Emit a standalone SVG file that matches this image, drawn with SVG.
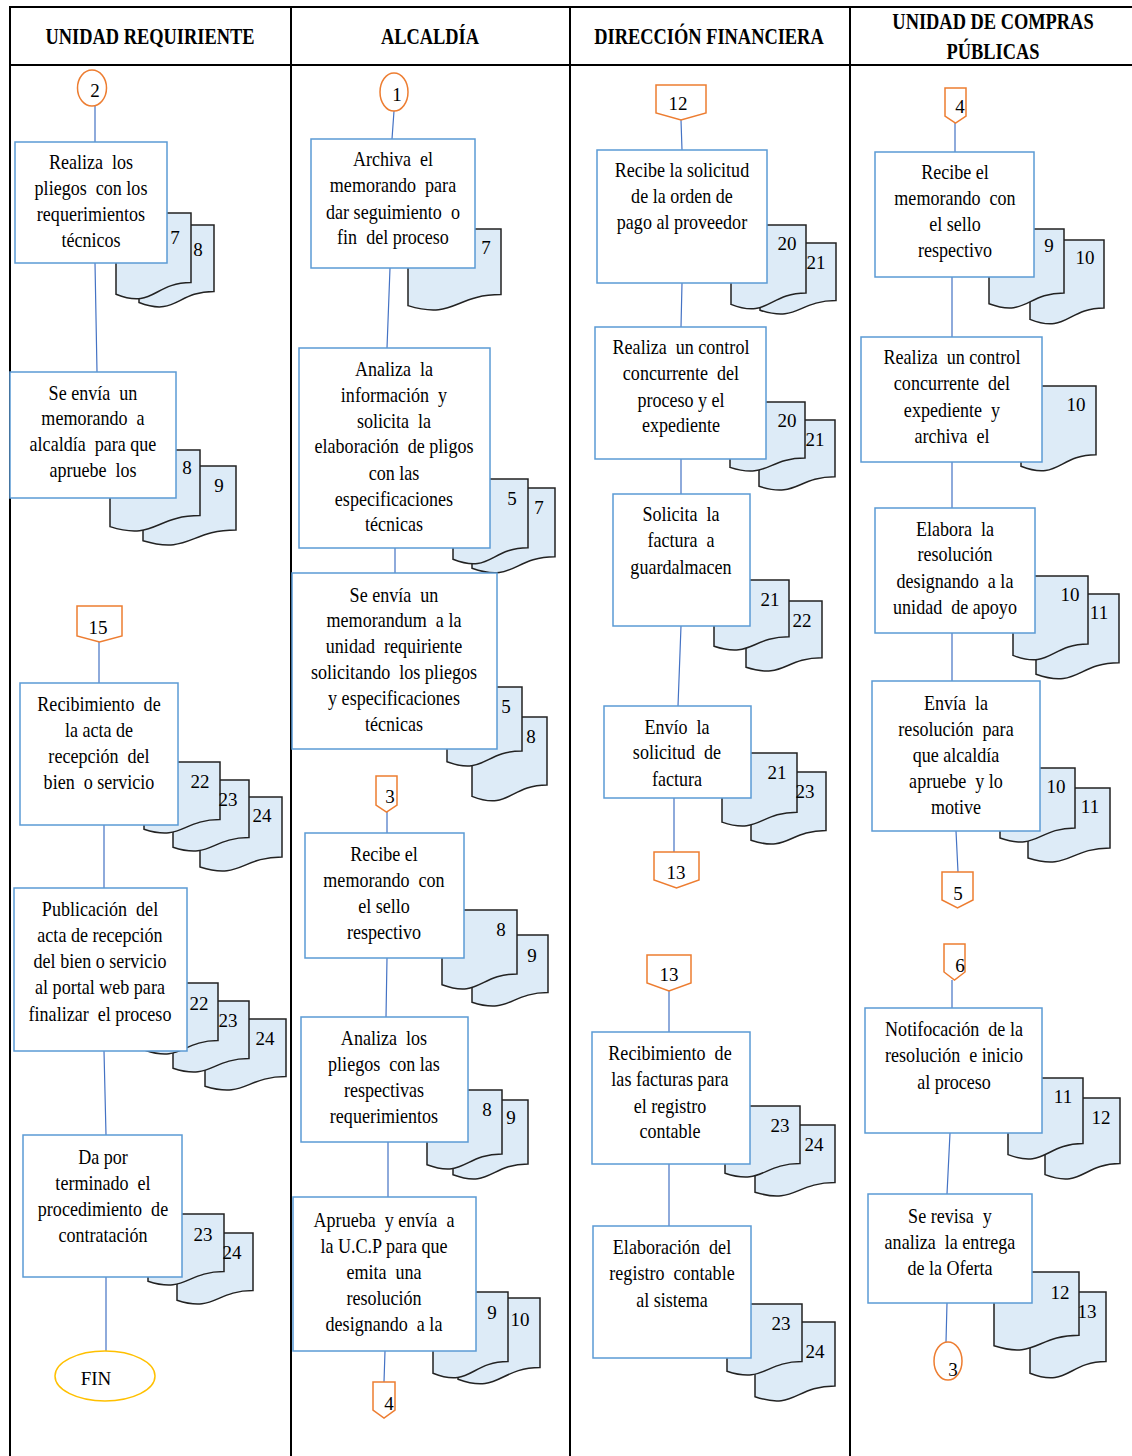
<svg xmlns="http://www.w3.org/2000/svg" width="1132" height="1456" viewBox="0 0 1132 1456" xml:space="preserve">
<style>
.t{font-family:"Liberation Serif","Times New Roman",serif;font-size:21px;fill:#000;text-anchor:middle;white-space:pre}
.n{font-family:"Liberation Serif","Times New Roman",serif;font-size:19px;fill:#000;text-anchor:middle}
.h{font-family:"Liberation Serif","Times New Roman",serif;font-size:23px;font-weight:bold;fill:#000;text-anchor:middle}
.grid{stroke:#000;stroke-width:2;fill:none}
.box{fill:#fff;stroke:#5B9BD5;stroke-width:1.5}
.doc{fill:#DDEBF7;stroke:#222;stroke-width:1.5}
.conn{stroke:#4472C4;stroke-width:1.2;fill:none}
.off{fill:#fff;stroke:#ED7D31;stroke-width:1.5}
.fin{fill:#fff;stroke:#FFC000;stroke-width:1.5}
</style>
<rect x="0" y="0" width="1132" height="1456" fill="#fff"/>
<g id="table">
<path class="grid" d="M10 1456V7H1132M10 65H1132M291 7V1456M570 7V1456M850 7V1456"/>
<text class="h" x="150" y="44" transform="matrix(0.8 0 0 1 30 0)">UNIDAD REQUIRIENTE</text>
<text class="h" x="430" y="44" transform="matrix(0.8 0 0 1 86 0)">ALCALDÍA</text>
<text class="h" x="709" y="44" transform="matrix(0.8 0 0 1 141.8 0)">DIRECCIÓN FINANCIERA</text>
<text class="h" x="993" y="29" transform="matrix(0.8 0 0 1 198.6 0)">UNIDAD DE COMPRAS</text>
<text class="h" x="993" y="59" transform="matrix(0.8 0 0 1 198.6 0)">PÚBLICAS</text>
</g>
<g id="connectors">
<path class="conn" d="M95 106L95 142M95 263L97 372M99 642L99 683M104 825L104 888M104 1051L106 1135M106 1277L106 1351"/>
<path class="conn" d="M394 111L392 139M390 268L387 348M395 548L395 573M387 812L387 833M387 958L386 1017M388 1142L388 1197M385 1351L384 1382"/>
<path class="conn" d="M681 120L682 150M682 283L681 327M681 459L681 494M681 626L678 706M674 798L674 852M669 991L669 1032M669 1164L669 1226"/>
<path class="conn" d="M955 123L955 152M952 277L952 337M952 462L952 508M952 633L952 681M956 831L958 872M952 980L952 1008M950 1133L947 1194M947 1303L946 1342"/>
</g>
<g id="c2"><ellipse class="off" cx="92" cy="88" rx="14.5" ry="18"/><text class="n" x="95" y="97">2</text></g>
<g id="n1"><path class="doc" d="M139 225H214V291.4C176.5 291.4 176.5 316.9 139 302.5Z"/><path class="doc" d="M116 213H191V282.6C153.5 282.6 153.5 309.3 116 294.3Z"/><text class="n" x="175" y="244">7</text><text class="n" x="198" y="256">8</text>
<rect class="box" x="15" y="142" width="152" height="121"/><g transform="matrix(0.86 0 0 1 12.74 0)"><text class="t" x="91" y="169">Realiza  los</text><text class="t" x="91" y="195">pliegos  con los</text><text class="t" x="91" y="221">requerimientos</text><text class="t" x="91" y="247">técnicos</text></g></g>
<g id="n2"><path class="doc" d="M143 466H236V530C189.5 530 189.5 554.6 143 540.7Z"/><path class="doc" d="M110 450H200V515.6C155 515.6 155 540.8 110 526.6Z"/><text class="n" x="187" y="474">8</text><text class="n" x="219" y="492">9</text>
<rect class="box" x="10" y="372" width="166" height="126"/><g transform="matrix(0.86 0 0 1 13.02 0)"><text class="t" x="93" y="400">Se envía  un</text><text class="t" x="93" y="425">memorando  a</text><text class="t" x="93" y="451">alcaldía  para que</text><text class="t" x="93" y="477">apruebe  los</text></g></g>
<g id="o15"><path class="off" d="M77 606H122V636L99.5 642L77 636Z"/><text class="n" x="98" y="634">15</text></g>
<g id="n3"><path class="doc" d="M200 797H282V857C241 857 241 880 200 867Z"/><path class="doc" d="M173 780H249V837.6C211 837.6 211 859.7 173 847.2Z"/><path class="doc" d="M144 762H220V819.6C182 819.6 182 841.7 144 829.2Z"/><text class="n" x="200" y="788">22</text><text class="n" x="228" y="806">23</text><text class="n" x="262" y="822">24</text>
<rect class="box" x="20" y="683" width="158" height="142"/><g transform="matrix(0.86 0 0 1 13.86 0)"><text class="t" x="99" y="711">Recibimiento  de</text><text class="t" x="99" y="737">la acta de</text><text class="t" x="99" y="763">recepción  del</text><text class="t" x="99" y="789">bien  o servicio</text></g></g>
<g id="n4"><path class="doc" d="M205 1019H286V1076.6C245.5 1076.6 245.5 1098.7 205 1086.2Z"/><path class="doc" d="M173 1001H249V1058.6C211 1058.6 211 1080.7 173 1068.2Z"/><path class="doc" d="M145 983H218V1040.6C181.5 1040.6 181.5 1062.7 145 1050.2Z"/><text class="n" x="199" y="1010">22</text><text class="n" x="228" y="1027">23</text><text class="n" x="265" y="1045">24</text>
<rect class="box" x="14" y="888" width="173" height="163"/><g transform="matrix(0.86 0 0 1 14 0)"><text class="t" x="100" y="916">Publicación  del</text><text class="t" x="100" y="942">acta de recepción</text><text class="t" x="100" y="968">del bien o servicio</text><text class="t" x="100" y="994">al portal web para</text><text class="t" x="100" y="1021">finalizar  el proceso</text></g></g>
<g id="n5"><path class="doc" d="M177 1233H253V1290.6C215 1290.6 215 1312.7 177 1300.2Z"/><path class="doc" d="M148 1214H224V1271.6C186 1271.6 186 1293.7 148 1281.2Z"/><text class="n" x="203" y="1241">23</text><text class="n" x="232" y="1259">24</text>
<rect class="box" x="23" y="1135" width="159" height="142"/><g transform="matrix(0.86 0 0 1 14.42 0)"><text class="t" x="103" y="1164">Da por</text><text class="t" x="103" y="1190">terminado  el</text><text class="t" x="103" y="1216">procedimiento  de</text><text class="t" x="103" y="1242">contratación</text></g></g>
<g id="fin"><ellipse class="fin" cx="105" cy="1376" rx="50" ry="25"/><text class="n" x="96" y="1385">FIN</text></g>

<g id="c1"><ellipse class="off" cx="394" cy="92" rx="14" ry="19"/><text class="n" x="397" y="101">1</text></g>
<g id="m1"><path class="doc" d="M408 229H501V294.6C454.5 294.6 454.5 319.8 408 305.6Z"/><text class="n" x="486" y="254">7</text>
<rect class="box" x="311" y="139" width="164" height="129"/><g transform="matrix(0.86 0 0 1 55.02 0)"><text class="t" x="393" y="166">Archiva  el</text><text class="t" x="393" y="192">memorando  para</text><text class="t" x="393" y="219">dar seguimiento  o</text><text class="t" x="393" y="244">fin  del proceso</text></g></g>
<g id="m2"><path class="doc" d="M472 488H555V556.8C513.5 556.8 513.5 583.2 472 568.3Z"/><path class="doc" d="M453 479H528V547.8C490.5 547.8 490.5 574.2 453 559.3Z"/><text class="n" x="512" y="505">5</text><text class="n" x="539" y="514">7</text>
<rect class="box" x="299" y="348" width="191" height="200"/><g transform="matrix(0.86 0 0 1 55.16 0)"><text class="t" x="394" y="376">Analiza  la</text><text class="t" x="394" y="402">información  y</text><text class="t" x="394" y="428">solicita  la</text><text class="t" x="394" y="453">elaboración  de pligos</text><text class="t" x="394" y="480">con las</text><text class="t" x="394" y="506">especificaciones</text><text class="t" x="394" y="531">técnicas</text></g></g>
<g id="m3"><path class="doc" d="M472 717H547V785C509.5 785 509.5 811.1 472 796.4Z"/><path class="doc" d="M447 687H522V751C484.5 751 484.5 775.6 447 761.7Z"/><text class="n" x="506" y="713">5</text><text class="n" x="531" y="743">8</text>
<rect class="box" x="292" y="573" width="205" height="176"/><g transform="matrix(0.86 0 0 1 55.16 0)"><text class="t" x="394" y="602">Se envía  un</text><text class="t" x="394" y="627">memorandum  a la</text><text class="t" x="394" y="653">unidad  requiriente</text><text class="t" x="394" y="679">solicitando  los pliegos</text><text class="t" x="394" y="705">y especificaciones</text><text class="t" x="394" y="731">técnicas</text></g></g>
<g id="o3"><path class="off" d="M376 776H397V805L386.5 812L376 805Z"/><text class="n" x="390" y="803">3</text></g>
<g id="m4"><path class="doc" d="M472 935H548V992.6C510 992.6 510 1014.7 472 1002.2Z"/><path class="doc" d="M442 910H517V974C479.5 974 479.5 998.6 442 984.7Z"/><text class="n" x="501" y="936">8</text><text class="n" x="532" y="962">9</text>
<rect class="box" x="305" y="833" width="159" height="125"/><g transform="matrix(0.86 0 0 1 53.76 0)"><text class="t" x="384" y="861">Recibe el</text><text class="t" x="384" y="887">memorando  con</text><text class="t" x="384" y="913">el sello</text><text class="t" x="384" y="939">respectivo</text></g></g>
<g id="m5"><path class="doc" d="M453 1100H528V1164C490.5 1164 490.5 1188.6 453 1174.7Z"/><path class="doc" d="M427 1090H502V1154C464.5 1154 464.5 1178.6 427 1164.7Z"/><text class="n" x="487" y="1116">8</text><text class="n" x="511" y="1124">9</text>
<rect class="box" x="301" y="1017" width="167" height="125"/><g transform="matrix(0.86 0 0 1 53.76 0)"><text class="t" x="384" y="1045">Analiza  los</text><text class="t" x="384" y="1071">pliegos  con las</text><text class="t" x="384" y="1097">respectivas</text><text class="t" x="384" y="1123">requerimientos</text></g></g>
<g id="m6"><path class="doc" d="M458 1298H540V1367.6C499 1367.6 499 1394.3 458 1379.3Z"/><path class="doc" d="M433 1292H508V1361.6C470.5 1361.6 470.5 1388.3 433 1373.3Z"/><text class="n" x="492" y="1319">9</text><text class="n" x="520" y="1326">10</text>
<rect class="box" x="293" y="1197" width="183" height="154"/><g transform="matrix(0.86 0 0 1 53.76 0)"><text class="t" x="384" y="1227">Aprueba  y envía  a</text><text class="t" x="384" y="1253">la U.C.P para que</text><text class="t" x="384" y="1279">emita  una</text><text class="t" x="384" y="1305">resolución</text><text class="t" x="384" y="1331">designando  a la</text></g></g>
<g id="o4a"><path class="off" d="M373 1382H395V1410L384 1418L373 1410Z"/><text class="n" x="389" y="1410">4</text></g>

<g id="o12"><path class="off" d="M656 85H706V113L681 120L656 113Z"/><text class="n" x="678" y="110">12</text></g>
<g id="f1"><path class="doc" d="M760 243H836V300.6C798 300.6 798 322.7 760 310.2Z"/><path class="doc" d="M731 225H806V293C768.5 293 768.5 319.1 731 304.4Z"/><text class="n" x="787" y="250">20</text><text class="n" x="816" y="269">21</text>
<rect class="box" x="597" y="150" width="170" height="133"/><g transform="matrix(0.86 0 0 1 95.48 0)"><text class="t" x="682" y="177">Recibe la solicitud</text><text class="t" x="682" y="203">de la orden de</text><text class="t" x="682" y="229">pago al proveedor</text></g></g>
<g id="f2"><path class="doc" d="M759 420H835V476.8C797 476.8 797 498.6 759 486.3Z"/><path class="doc" d="M730 402H805V458C767.5 458 767.5 479.5 730 467.4Z"/><text class="n" x="787" y="427">20</text><text class="n" x="815" y="446">21</text>
<rect class="box" x="595" y="327" width="171" height="132"/><g transform="matrix(0.86 0 0 1 95.34 0)"><text class="t" x="681" y="354">Realiza  un control</text><text class="t" x="681" y="380">concurrente  del</text><text class="t" x="681" y="407">proceso y el</text><text class="t" x="681" y="432">expediente</text></g></g>
<g id="f3"><path class="doc" d="M746 601H822V657.8C784 657.8 784 679.6 746 667.3Z"/><path class="doc" d="M714 580H789V636.8C751.5 636.8 751.5 658.6 714 646.3Z"/><text class="n" x="770" y="606">21</text><text class="n" x="802" y="627">22</text>
<rect class="box" x="613" y="494" width="137" height="132"/><g transform="matrix(0.86 0 0 1 95.34 0)"><text class="t" x="681" y="521">Solicita  la</text><text class="t" x="681" y="547">factura  a</text><text class="t" x="681" y="574">guardalmacen</text></g></g>
<g id="f4"><path class="doc" d="M751 772H826V830.4C788.5 830.4 788.5 852.8 751 840.2Z"/><path class="doc" d="M722 753H797V812.2C759.5 812.2 759.5 834.9 722 822.1Z"/><text class="n" x="777" y="779">21</text><text class="n" x="805" y="798">23</text>
<rect class="box" x="604" y="706" width="147" height="92"/><g transform="matrix(0.86 0 0 1 94.78 0)"><text class="t" x="677" y="734">Envío  la</text><text class="t" x="677" y="759">solicitud  de</text><text class="t" x="677" y="786">factura</text></g></g>
<g id="o13a"><path class="off" d="M654 852H699V880L676.5 888L654 880Z"/><text class="n" x="676" y="879">13</text></g>
<g id="o13b"><path class="off" d="M647 955H691V983L669 991L647 983Z"/><text class="n" x="669" y="981">13</text></g>
<g id="f5"><path class="doc" d="M755 1125H835V1182.6C795 1182.6 795 1204.7 755 1192.2Z"/><path class="doc" d="M725 1106H800V1163.6C762.5 1163.6 762.5 1185.7 725 1173.2Z"/><text class="n" x="780" y="1132">23</text><text class="n" x="814" y="1151">24</text>
<rect class="box" x="592" y="1032" width="158" height="132"/><g transform="matrix(0.86 0 0 1 93.8 0)"><text class="t" x="670" y="1060">Recibimiento  de</text><text class="t" x="670" y="1086">las facturas para</text><text class="t" x="670" y="1113">el registro</text><text class="t" x="670" y="1138">contable</text></g></g>
<g id="f6"><path class="doc" d="M755 1322H835V1386C795 1386 795 1410.6 755 1396.7Z"/><path class="doc" d="M727 1304H802V1361.6C764.5 1361.6 764.5 1383.7 727 1371.2Z"/><text class="n" x="781" y="1330">23</text><text class="n" x="815" y="1358">24</text>
<rect class="box" x="593" y="1226" width="158" height="132"/><g transform="matrix(0.86 0 0 1 94.08 0)"><text class="t" x="672" y="1254">Elaboración  del</text><text class="t" x="672" y="1280">registro  contable</text><text class="t" x="672" y="1307">al sistema</text></g></g>

<g id="o4b"><path class="off" d="M945 88H966V116L955.5 123L945 116Z"/><text class="n" x="960" y="113">4</text></g>
<g id="u1"><path class="doc" d="M1030 240H1104V308C1067 308 1067 334.1 1030 319.4Z"/><path class="doc" d="M989 229H1064V293C1026.5 293 1026.5 317.6 989 303.7Z"/><text class="n" x="1049" y="252">9</text><text class="n" x="1085" y="264">10</text>
<rect class="box" x="875" y="152" width="159" height="125"/><g transform="matrix(0.86 0 0 1 133.7 0)"><text class="t" x="955" y="179">Recibe el</text><text class="t" x="955" y="205">memorando  con</text><text class="t" x="955" y="231">el sello</text><text class="t" x="955" y="257">respectivo</text></g></g>
<g id="u2"><path class="doc" d="M1021 386H1096V454.8C1058.5 454.8 1058.5 481.2 1021 466.3Z"/><text class="n" x="1076" y="411">10</text>
<rect class="box" x="861" y="337" width="181" height="125"/><g transform="matrix(0.86 0 0 1 133.28 0)"><text class="t" x="952" y="364">Realiza  un control</text><text class="t" x="952" y="390">concurrente  del</text><text class="t" x="952" y="417">expediente  y</text><text class="t" x="952" y="443">archiva  el</text></g></g>
<g id="u3"><path class="doc" d="M1036 594H1119V662.8C1077.5 662.8 1077.5 689.2 1036 674.3Z"/><path class="doc" d="M1013 576H1088V644C1050.5 644 1050.5 670.1 1013 655.4Z"/><text class="n" x="1070" y="601">10</text><text class="n" x="1099" y="619">11</text>
<rect class="box" x="875" y="508" width="160" height="125"/><g transform="matrix(0.86 0 0 1 133.7 0)"><text class="t" x="955" y="536">Elabora  la</text><text class="t" x="955" y="561">resolución</text><text class="t" x="955" y="588">designando  a la</text><text class="t" x="955" y="614">unidad  de apoyo</text></g></g>
<g id="u4"><path class="doc" d="M1028 788H1110V848C1069 848 1069 871 1028 858Z"/><path class="doc" d="M1000 768H1075V828C1037.5 828 1037.5 851 1000 838Z"/><text class="n" x="1056" y="793">10</text><text class="n" x="1090" y="813">11</text>
<rect class="box" x="872" y="681" width="168" height="150"/><g transform="matrix(0.86 0 0 1 133.84 0)"><text class="t" x="956" y="710">Envía  la</text><text class="t" x="956" y="736">resolución  para</text><text class="t" x="956" y="762">que alcaldía</text><text class="t" x="956" y="788">apruebe  y lo</text><text class="t" x="956" y="814">motive</text></g></g>
<g id="o5"><path class="off" d="M942 872H973V900L957.5 908L942 900Z"/><text class="n" x="958" y="900">5</text></g>
<g id="o6"><path class="off" d="M944 944H965V972L954.5 980L944 972Z"/><text class="n" x="960" y="972">6</text></g>
<g id="u5"><path class="doc" d="M1045 1098H1120V1163.6C1082.5 1163.6 1082.5 1188.8 1045 1174.6Z"/><path class="doc" d="M1008 1078H1083V1143.6C1045.5 1143.6 1045.5 1168.8 1008 1154.6Z"/><text class="n" x="1063" y="1103">11</text><text class="n" x="1101" y="1124">12</text>
<rect class="box" x="865" y="1008" width="177" height="125"/><g transform="matrix(0.86 0 0 1 133.56 0)"><text class="t" x="954" y="1036">Notifocación  de la</text><text class="t" x="954" y="1062">resolución  e inicio</text><text class="t" x="954" y="1089">al proceso</text></g></g>
<g id="u6"><path class="doc" d="M1030 1292H1106V1361.6C1068 1361.6 1068 1388.3 1030 1373.3Z"/><path class="doc" d="M994 1272H1079V1335.2C1036.5 1335.2 1036.5 1359.5 994 1345.8Z"/><text class="n" x="1060" y="1299">12</text><text class="n" x="1087" y="1318">13</text>
<rect class="box" x="868" y="1194" width="164" height="109"/><g transform="matrix(0.86 0 0 1 133 0)"><text class="t" x="950" y="1223">Se revisa  y</text><text class="t" x="950" y="1249">analiza  la entrega</text><text class="t" x="950" y="1275">de la Oferta</text></g></g>
<g id="c3"><ellipse class="off" cx="948" cy="1361" rx="14" ry="19"/><text class="n" x="953" y="1376">3</text></g>
</svg>
